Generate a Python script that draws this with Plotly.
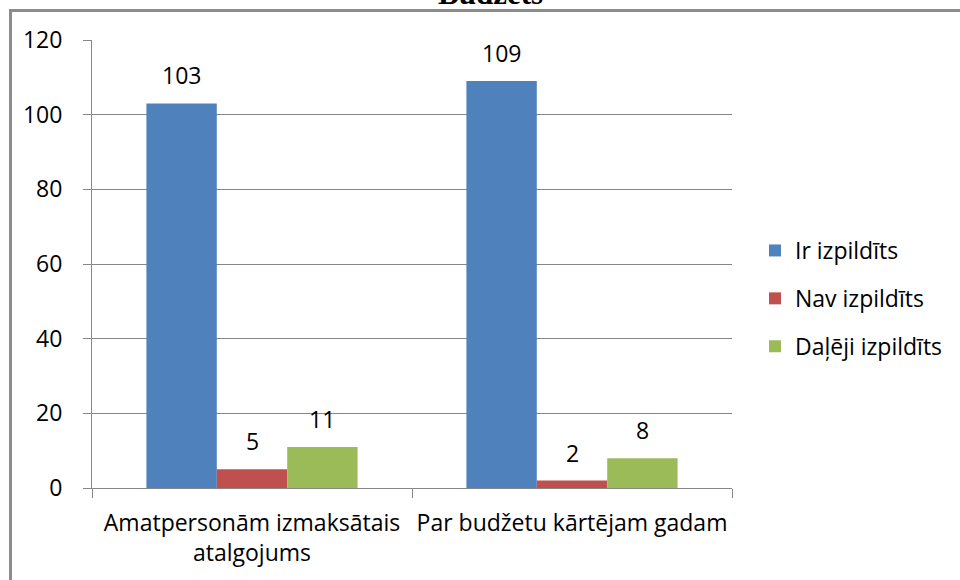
import plotly.graph_objects as go

categories = ["Amatpersonām izmaksātais<br>atalgojums", "Par budžetu kārtējam gadam"]
series_names = ["Ir izpildīts", "Nav izpildīts", "Daļēji izpildīts"]
ir_vals = [103, 109]
nav_vals = [5, 2]
dal_vals = [11, 8]
title_text = "Budžets"

colors = ["#4F81BD", "#C0504D", "#9BBB59"]
all_vals = [ir_vals, nav_vals, dal_vals]

W, H = 960, 580
L, R, T, B = 92, 228, 40, 92
pw, ph = W - L - R, H - T - B

def px_x(p):
    return (p - L) / pw

def px_y(p):
    return (H - B - p) / ph

FONT = "Open Sans"
FS = 23
fig = go.Figure()
for i, (name, vals, col) in enumerate(zip(series_names, all_vals, colors)):
    fig.add_trace(go.Bar(
        x=categories, y=vals, name=name, marker_color=col,
        marker_line_width=0, legendgroup=name,
    ))

bargap = 0.34
barw = pw / 2 * (1 - bargap) / 3
annotations = []
for i, vals in enumerate(all_vals):
    for c, v in zip(categories, vals):
        annotations.append(dict(
            x=c, y=v, xref="x", yref="y", text=str(v), showarrow=False,
            xshift=(i - 1) * barw, yshift=10, yanchor="bottom",
            font=dict(family=FONT, size=FS, color="#000000"),
        ))

annotations.append(dict(
    x=px_x(490), y=px_y(13), xref="paper", yref="paper",
    text="<b>" + title_text + "</b>", showarrow=False, yanchor="bottom",
    font=dict(family="Liberation Serif", size=31, color="#000000"),
))

shapes = [
    dict(type="line", xref="paper", yref="paper", x0=px_x(9), x1=px_x(965),
         y0=px_y(10.5), y1=px_y(10.5), line=dict(color="#8c8c8c", width=3)),
    dict(type="line", xref="paper", yref="paper", x0=px_x(10.5), x1=px_x(10.5),
         y0=px_y(9), y1=px_y(590), line=dict(color="#8c8c8c", width=3)),
]

fig.update_layout(
    width=W, height=H,
    margin=dict(l=L, r=R, t=T, b=B, pad=0, autoexpand=False),
    paper_bgcolor="white", plot_bgcolor="white",
    barmode="group", bargap=bargap, bargroupgap=0,
    font=dict(family=FONT, size=FS, color="#000000"),
    showlegend=True,
    legend=dict(x=px_x(755), y=px_y(229), xanchor="left", yanchor="top",
                traceorder="grouped", tracegroupgap=15,
                font=dict(family=FONT, size=FS, color="#000000"),
                itemwidth=30),
    annotations=annotations,
    shapes=shapes,
)
fig.update_yaxes(range=[0, 120], dtick=20, showgrid=True, gridcolor="#878787",
                 gridwidth=1, showline=True, linecolor="#878787", linewidth=1,
                 ticks="outside", ticklen=8, tickcolor="#878787",
                 ticklabelstandoff=16, automargin=False,
                 tickfont=dict(family=FONT, size=FS), zeroline=False)
fig.update_xaxes(showline=True, linecolor="#878787", linewidth=1,
                 ticks="outside", ticklen=9, tickcolor="#878787",
                 tickson="boundaries", showgrid=False, ticklabelstandoff=14,
                 tickangle=0, automargin=False,
                 tickfont=dict(family=FONT, size=FS), mirror=False)

fig.write_html("out.html", post_script="document.body.style.margin='0';",
               config={"displayModeBar": False})
